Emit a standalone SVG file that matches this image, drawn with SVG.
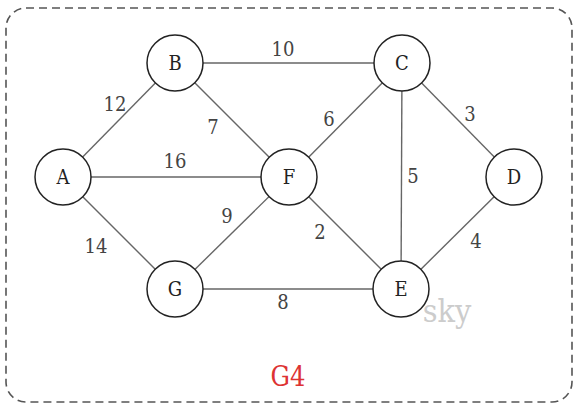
<svg xmlns="http://www.w3.org/2000/svg" width="588" height="414" viewBox="0 0 588 414">
<style>
.edge{stroke:#666;stroke-width:1.4;fill:none}
.node circle{fill:#fff;stroke:#222;stroke-width:1.5}
.node text{font-family:'DejaVu Serif Condensed','DejaVu Serif',serif;font-size:20px;fill:#222;text-anchor:middle}
.lbl{font-family:'DejaVu Serif Condensed','DejaVu Serif',serif;font-size:20px;fill:#444;text-anchor:middle}
</style>
<rect x="6" y="8" width="566" height="394" rx="20" ry="20" fill="none" stroke="#555" stroke-width="1.6" stroke-dasharray="8,5"/>
<g id="connectors">
<line class="edge" x1="175" y1="63" x2="402" y2="63"/>
<line class="edge" x1="63" y1="177" x2="175" y2="63"/>
<line class="edge" x1="175" y1="63" x2="289" y2="177"/>
<line class="edge" x1="63" y1="177" x2="289" y2="177"/>
<line class="edge" x1="289" y1="177" x2="402" y2="63"/>
<line class="edge" x1="402" y1="63" x2="514" y2="177"/>
<line class="edge" x1="402" y1="63" x2="401" y2="289"/>
<line class="edge" x1="63" y1="177" x2="175" y2="289"/>
<line class="edge" x1="175" y1="289" x2="289" y2="177"/>
<line class="edge" x1="289" y1="177" x2="401" y2="289"/>
<line class="edge" x1="514" y1="177" x2="401" y2="289"/>
<line class="edge" x1="175" y1="289" x2="401" y2="289"/>
<text class="lbl" x="283" y="56">10</text>
<text class="lbl" x="115" y="111">12</text>
<text class="lbl" x="213" y="134">7</text>
<text class="lbl" x="175" y="168">16</text>
<text class="lbl" x="329" y="126">6</text>
<text class="lbl" x="470" y="121">3</text>
<text class="lbl" x="413" y="183">5</text>
<text class="lbl" x="227" y="223">9</text>
<text class="lbl" x="320" y="239">2</text>
<text class="lbl" x="96" y="253">14</text>
<text class="lbl" x="476" y="248">4</text>
<text class="lbl" x="283" y="309">8</text>
</g>
<g id="node-A" class="node"><circle cx="63" cy="177" r="28"/><text x="63" y="184">A</text></g>
<g id="node-B" class="node"><circle cx="175" cy="63" r="28"/><text x="175" y="70">B</text></g>
<g id="node-C" class="node"><circle cx="402" cy="63" r="28"/><text x="402" y="70">C</text></g>
<g id="node-D" class="node"><circle cx="514" cy="177" r="28"/><text x="514" y="184">D</text></g>
<g id="node-F" class="node"><circle cx="289" cy="177" r="28"/><text x="289" y="184">F</text></g>
<g id="node-G" class="node"><circle cx="175" cy="289" r="28"/><text x="175" y="296">G</text></g>
<g id="node-E" class="node"><circle cx="401" cy="289" r="28"/><text x="401" y="296">E</text></g>
<text x="447" y="322" font-family="'DejaVu Serif Condensed','DejaVu Serif',serif" font-size="32" fill="#ccc" text-anchor="middle">sky</text>
<text x="288" y="386" font-family="'DejaVu Serif Condensed','DejaVu Serif',serif" font-size="27" fill="#d33" text-anchor="middle">G4</text>
</svg>
